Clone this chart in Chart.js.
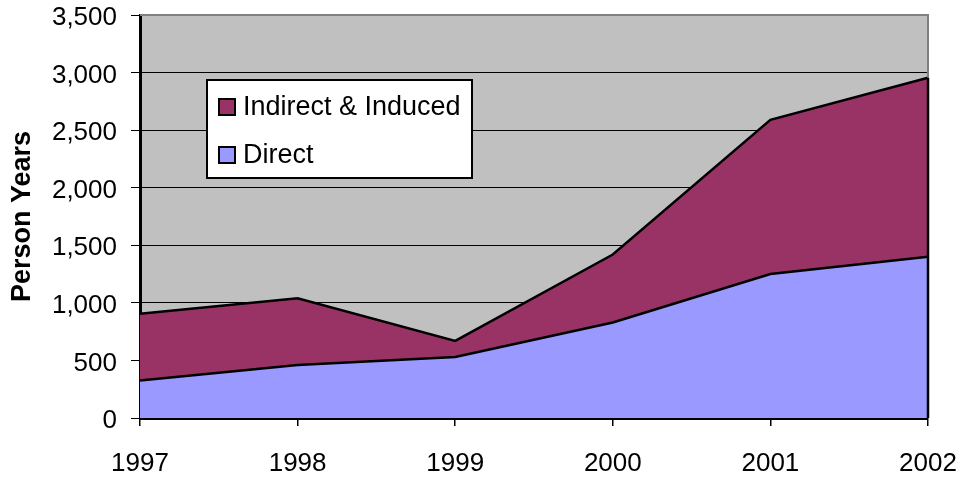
<!DOCTYPE html>
<html>
<head>
<meta charset="utf-8">
<script src="https://cdn.jsdelivr.net/npm/chart.js@4/dist/chart.umd.min.js"></script>
<style>
	html, body { margin: 0; padding: 0; background: #fff; }
	#wrap { width: 963px; height: 477px; }
</style>
</head>
<body>
<div id="wrap"><canvas id="chart" width="963" height="477"></canvas></div>
<script>
const years = ['1997', '1998', '1999', '2000', '2001', '2002'];
const direct = [325, 460, 530, 830, 1250, 1400];
const indirectInduced = [580, 580, 140, 590, 1340, 1555];
const yTicks = [0, 500, 1000, 1500, 2000, 2500, 3000, 3500];

const FONT = '"Liberation Sans", Arial, sans-serif';

// gray plot background, gray frame on top/right
const plotFrame = {
	id: 'plotFrame',
	beforeDraw(chart) {
		const {ctx, chartArea: a} = chart;
		ctx.save();
		ctx.fillStyle = '#C0C0C0';
		ctx.fillRect(a.left, a.top, a.right - a.left, a.bottom - a.top);
		ctx.restore();
	},
	afterDatasetsDraw(chart) {
		const {ctx, chartArea: a} = chart;
		const top = chart.getDatasetMeta(1).data;
		const lastY = top[top.length - 1].y;
		ctx.save();
		ctx.strokeStyle = '#808080';
		ctx.lineWidth = 2;
		ctx.beginPath();
		ctx.moveTo(a.left, a.top);
		ctx.lineTo(a.right, a.top);
		ctx.lineTo(a.right, lastY);
		ctx.stroke();
		ctx.strokeStyle = '#000';
		ctx.lineWidth = 2.5;
		ctx.beginPath();
		ctx.moveTo(a.right, lastY);
		ctx.lineTo(a.right, a.bottom);
		ctx.stroke();
		ctx.restore();
	}
};

// boxed legend inside the plot, top series first
const boxLegend = {
	id: 'boxLegend',
	afterDraw(chart) {
		const ctx = chart.ctx;
		const x = 207, y = 80, w = 265, h = 98;
		ctx.save();
		ctx.fillStyle = '#fff';
		ctx.fillRect(x, y, w, h);
		ctx.strokeStyle = '#000';
		ctx.lineWidth = 2;
		ctx.strokeRect(x, y, w, h);
		ctx.font = '27px ' + FONT;
		ctx.textBaseline = 'middle';
		const items = chart.data.datasets.slice().reverse();
		items.forEach((ds, i) => {
			const cy = 107 + i * 48;
			ctx.fillStyle = ds.backgroundColor;
			ctx.fillRect(219, cy - 8, 16, 16);
			ctx.lineWidth = 2;
			ctx.strokeStyle = '#000';
			ctx.strokeRect(219, cy - 8, 16, 16);
			ctx.fillStyle = '#000';
			ctx.fillText(ds.label, 243, cy + 1);
		});
		ctx.restore();
	}
};

const ctx = document.getElementById('chart').getContext('2d');
new Chart(ctx, {
	type: 'line',
	data: {
		labels: years,
		datasets: [
			{
				label: 'Direct',
				data: direct,
				backgroundColor: '#9999FF',
				borderColor: '#000',
				borderWidth: 2.5,
				fill: 'origin',
				pointRadius: 0,
				tension: 0
			},
			{
				label: 'Indirect & Induced',
				data: indirectInduced,
				backgroundColor: '#993366',
				borderColor: '#000',
				borderWidth: 2.5,
				fill: '-1',
				pointRadius: 0,
				tension: 0
			}
		]
	},
	options: {
		responsive: false,
		animation: false,
		layout: { padding: { left: 0, right: 35, top: 15, bottom: 0 } },
		plugins: {
			legend: { display: false },
			tooltip: { enabled: false }
		},
		scales: {
			x: {
				offset: false,
				grid: { drawOnChartArea: false, drawTicks: true, tickLength: 8, color: '#000', lineWidth: 1.5 },
				border: { color: '#000', width: 3 },
				ticks: { color: '#000', font: { family: FONT, size: 26 }, padding: 22, maxRotation: 0, autoSkip: false },
				afterFit(scale) {
					scale.height = 59;
					scale.paddingLeft = 0;
					scale.paddingRight = 0;
				}
			},
			y: {
				stacked: true,
				min: yTicks[0],
				max: yTicks[yTicks.length - 1],
				afterBuildTicks(scale) { scale.ticks = yTicks.map(v => ({value: v})); },
				grid: { color: '#000', lineWidth: 1, tickLength: 9 },
				border: { color: '#000', width: 3 },
				ticks: {
					color: '#000',
					font: { family: FONT, size: 26 },
					padding: 14,
					labelOffset: 3,
					callback: v => v.toLocaleString('en-US')
				},
				title: {
					display: true,
					text: 'Person Years',
					color: '#000',
					font: { family: FONT, size: 27, weight: 'bold' },
					padding: { top: 6, bottom: 0 }
				},
				afterFit(scale) {
					scale.width = 140;
					scale.paddingTop = 0;
					scale.paddingBottom = 0;
				}
			}
		}
	},
	plugins: [plotFrame, boxLegend]
});
</script>
</body>
</html>
